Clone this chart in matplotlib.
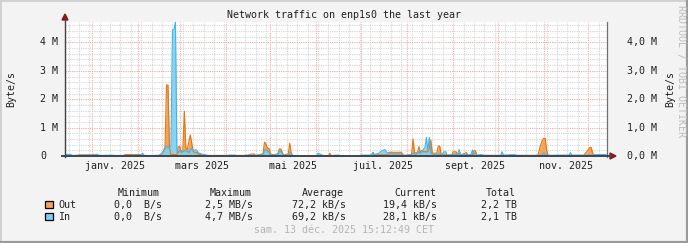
import matplotlib
matplotlib.use('Agg')
import matplotlib.pyplot as plt
import matplotlib.dates as mdates
import matplotlib.transforms as mtransforms
from matplotlib.ticker import MultipleLocator
from matplotlib.lines import Line2D
from matplotlib.patches import Polygon, Rectangle
import pandas as pd

# ---------------- data (MB/s) ----------------
out_dates = ["2024-12-13", "2024-12-20", "2024-12-24", "2025-01-04", "2025-01-06", "2025-01-22",
             "2025-01-23", "2025-02-03", "2025-02-05", "2025-02-15", "2025-02-17", "2025-02-19",
             "2025-02-20", "2025-02-21", "2025-02-22", "2025-02-23", "2025-02-27", "2025-02-28",
             "2025-03-01", "2025-03-02", "2025-03-03", "2025-03-04", "2025-03-05", "2025-03-06",
             "2025-03-07", "2025-03-08", "2025-03-09", "2025-03-10", "2025-03-12", "2025-03-14",
             "2025-03-17", "2025-04-16", "2025-04-18", "2025-04-20", "2025-04-21", "2025-04-26",
             "2025-04-27", "2025-04-28", "2025-04-29", "2025-04-30", "2025-05-01", "2025-05-03",
             "2025-05-06", "2025-05-07", "2025-05-08", "2025-05-09", "2025-05-10", "2025-05-13",
             "2025-05-14", "2025-05-15", "2025-05-16", "2025-06-09", "2025-06-10", "2025-06-11",
             "2025-07-08", "2025-07-09", "2025-07-10", "2025-07-19", "2025-07-20", "2025-07-28",
             "2025-07-30", "2025-08-04", "2025-08-05", "2025-08-06", "2025-08-08", "2025-08-09",
             "2025-08-10", "2025-08-11", "2025-08-12", "2025-08-15", "2025-08-16", "2025-08-17",
             "2025-08-18", "2025-08-21", "2025-08-22", "2025-08-23", "2025-08-24", "2025-08-31",
             "2025-09-01", "2025-09-03", "2025-09-04", "2025-09-05", "2025-09-06", "2025-09-10",
             "2025-09-11", "2025-09-14", "2025-09-15", "2025-09-16", "2025-09-17", "2025-10-28",
             "2025-10-29", "2025-10-30", "2025-10-31", "2025-11-01", "2025-11-02", "2025-11-03",
             "2025-11-04", "2025-11-28", "2025-11-29", "2025-11-30", "2025-12-01", "2025-12-02",
             "2025-12-03", "2025-12-04", "2025-12-05", "2025-12-13"]
out_vals = [0.01, 0.01, 0.04, 0.04, 0.01, 0.01,
            0.05, 0.05, 0.01, 0.02, 0.08, 0.30,
            2.50, 2.50, 0.30, 0.05, 0.05, 0.33,
            0.33, 0.12, 0.20, 1.58, 0.30, 0.22,
            0.50, 0.74, 0.45, 0.15, 0.12, 0.06,
            0.02, 0.02, 0.07, 0.07, 0.01, 0.08,
            0.49, 0.42, 0.27, 0.27, 0.08, 0.03,
            0.08, 0.25, 0.25, 0.12, 0.03, 0.08,
            0.45, 0.08, 0.01, 0.01, 0.10, 0.01,
            0.02, 0.13, 0.04, 0.04, 0.13, 0.13,
            0.02, 0.05, 0.60, 0.12, 0.10, 0.33,
            0.12, 0.20, 0.15, 0.15, 0.30, 0.56,
            0.10, 0.10, 0.35, 0.35, 0.05, 0.03,
            0.15, 0.15, 0.05, 0.10, 0.03, 0.12,
            0.03, 0.05, 0.19, 0.19, 0.02, 0.02,
            0.20, 0.40, 0.55, 0.62, 0.62, 0.20,
            0.02, 0.02, 0.10, 0.15, 0.22, 0.30,
            0.30, 0.10, 0.02, 0.02]

in_dates = ["2024-12-13", "2024-12-15", "2024-12-17", "2024-12-19", "2024-12-25", "2025-01-02",
            "2025-01-04", "2025-01-06", "2025-01-14", "2025-01-16", "2025-01-25", "2025-02-03",
            "2025-02-04", "2025-02-05", "2025-02-15", "2025-02-17", "2025-02-19", "2025-02-20",
            "2025-02-22", "2025-02-23", "2025-02-24", "2025-02-25", "2025-02-26", "2025-02-27",
            "2025-02-28", "2025-03-01", "2025-03-03", "2025-03-05", "2025-03-07", "2025-03-09",
            "2025-03-10", "2025-03-12", "2025-03-14", "2025-03-17", "2025-03-20", "2025-03-25",
            "2025-04-02", "2025-04-03", "2025-04-07", "2025-04-08", "2025-04-13", "2025-04-14",
            "2025-04-18", "2025-04-20", "2025-04-26", "2025-04-27", "2025-04-28", "2025-04-29",
            "2025-04-30", "2025-05-01", "2025-05-06", "2025-05-07", "2025-05-08", "2025-05-09",
            "2025-05-10", "2025-05-13", "2025-05-14", "2025-05-15", "2025-05-16", "2025-05-20",
            "2025-06-01", "2025-06-02", "2025-06-03", "2025-06-05", "2025-06-07", "2025-06-12",
            "2025-06-13", "2025-06-16", "2025-06-17", "2025-06-30", "2025-07-01", "2025-07-08",
            "2025-07-09", "2025-07-10", "2025-07-13", "2025-07-15", "2025-07-17", "2025-07-18",
            "2025-07-20", "2025-07-28", "2025-07-30", "2025-08-04", "2025-08-05", "2025-08-07",
            "2025-08-08", "2025-08-10", "2025-08-11", "2025-08-13", "2025-08-14", "2025-08-15",
            "2025-08-16", "2025-08-17", "2025-08-20", "2025-08-22", "2025-08-24", "2025-08-26",
            "2025-08-27", "2025-08-28", "2025-09-01", "2025-09-04", "2025-09-05", "2025-09-06",
            "2025-09-13", "2025-09-14", "2025-09-15", "2025-09-16", "2025-09-17", "2025-09-20",
            "2025-09-22", "2025-10-03", "2025-10-04", "2025-10-05", "2025-10-12", "2025-10-14",
            "2025-10-30", "2025-11-01", "2025-11-02", "2025-11-04", "2025-11-12", "2025-11-16",
            "2025-11-18", "2025-11-19", "2025-11-20", "2025-12-04", "2025-12-05", "2025-12-13"]
in_vals = [0.02, 0.06, 0.06, 0.02, 0.03, 0.03,
           0.06, 0.02, 0.03, 0.02, 0.02, 0.03,
           0.10, 0.02, 0.02, 0.10, 0.25, 0.35,
           0.28, 0.35, 4.43, 4.45, 4.72, 0.20,
           0.12, 0.20, 0.15, 0.20, 0.12, 0.28,
           0.20, 0.22, 0.10, 0.05, 0.02, 0.00,
           0.00, 0.03, 0.03, 0.00, 0.00, 0.03,
           0.03, 0.02, 0.05, 0.20, 0.22, 0.18,
           0.12, 0.04, 0.05, 0.18, 0.15, 0.10,
           0.02, 0.03, 0.08, 0.10, 0.02, 0.00,
           0.00, 0.10, 0.08, 0.03, 0.00, 0.00,
           0.03, 0.03, 0.00, 0.00, 0.03, 0.03,
           0.12, 0.05, 0.10, 0.18, 0.23, 0.15,
           0.07, 0.07, 0.02, 0.03, 0.10, 0.05,
           0.15, 0.10, 0.15, 0.30, 0.66, 0.20,
           0.66, 0.10, 0.03, 0.08, 0.03, 0.15,
           0.15, 0.03, 0.05, 0.05, 0.23, 0.05,
           0.05, 0.21, 0.05, 0.10, 0.03, 0.05,
           0.02, 0.02, 0.15, 0.03, 0.05, 0.02,
           0.02, 0.10, 0.05, 0.02, 0.03, 0.03,
           0.03, 0.12, 0.03, 0.03, 0.05, 0.05]

start_time = "2024-12-13 15:12:49"
end_time = "2025-12-13 15:12:49"

y_ticks = [0, 1, 2, 3, 4]
y_labels_left = ["0", "1 M", "2 M", "3 M", "4 M"]
y_labels_right = ["0,0 M", "1,0 M", "2,0 M", "3,0 M", "4,0 M"]
x_label_dates = ["2025-01-16", "2025-03-16", "2025-05-16", "2025-07-16", "2025-09-16", "2025-11-16"]
x_labels = ["janv. 2025", "mars 2025", "mai 2025", "juil. 2025", "sept. 2025", "nov. 2025"]
y_max = 4.72

title = "Network traffic on enp1s0 the last year"
legend_names = ["Out", "In"]
legend_headers = ["Minimum", "Maximum", "Average", "Current", "Total"]
legend_min = ["0,0  B/s", "0,0  B/s"]
legend_max = ["2,5 MB/s", "4,7 MB/s"]
legend_avg = ["72,2 kB/s", "69,2 kB/s"]
legend_cur = ["19,4 kB/s", "28,1 kB/s"]
legend_tot = ["2,2 TB", "2,1 TB"]
timestamp = "sam. 13 déc. 2025 15:12:49 CET"

# ---------------- styling ----------------
W, H = 688, 243
FONT = "DejaVu Sans Mono"
FS = 7.2
OUT_FILL, OUT_LINE = "#F2A55A", "#E8750C"
IN_FILL, IN_LINE = "#7DD0F2", "#45B3E6"

def fx(px):
    return px / W

def fy(py):
    return 1 - py / H

fig = plt.figure(figsize=(W / 100, H / 100), dpi=100, facecolor="#F3F3F3")
ax = fig.add_axes([fx(65), fy(156), (607 - 65) / W, (156 - 22) / H])
ax.set_facecolor("white")

od = pd.to_datetime(out_dates)
idt = pd.to_datetime(in_dates)

ax.fill_between(od, 0, out_vals, color=OUT_FILL, lw=0, zorder=2)
ax.fill_between(idt, 0, in_vals, color=IN_FILL, lw=0, alpha=0.9, zorder=3)
ax.plot(od, out_vals, color=OUT_LINE, lw=0.8, zorder=4)
ax.plot(idt, in_vals, color=IN_LINE, lw=0.8, zorder=5)

ax.set_xlim(pd.Timestamp(start_time), pd.Timestamp(end_time))
ax.set_ylim(0, y_max)

ax.xaxis.set_major_locator(mdates.MonthLocator())
ax.xaxis.set_minor_locator(mdates.WeekdayLocator(byweekday=mdates.MO))
ax.yaxis.set_major_locator(MultipleLocator(1))
ax.yaxis.set_minor_locator(MultipleLocator(0.2))
ax.grid(which="minor", color="#D6D6D6", ls=(0, (1, 1)), lw=0.8, zorder=0)
ax.grid(which="major", color="#F4A8A8", ls=(0, (1, 1)), lw=0.8, zorder=1)
ax.set_axisbelow(True)
ax.tick_params(which="both", length=0, labelbottom=False, labelleft=False)
for s in ax.spines.values():
    s.set_visible(False)

# axis lines and arrows
fig.add_artist(Line2D([fx(65), fx(65)], [fy(157), fy(19)], color="#404040", lw=1.0))
fig.add_artist(Line2D([fx(607), fx(607)], [fy(157), fy(22)], color="#707070", lw=0.9))
fig.add_artist(Line2D([fx(62), fx(611)], [fy(156), fy(156)], color="#3C4652", lw=1.4))
fig.add_artist(Polygon([[fx(62), fy(20)], [fx(68), fy(20)], [fx(65), fy(14)]],
                       closed=True, color="#8B1A1A", transform=fig.transFigure))
fig.add_artist(Polygon([[fx(610), fy(153)], [fx(610), fy(159)], [fx(616), fy(156)]],
                       closed=True, color="#8B1A1A", transform=fig.transFigure))

# tick labels
bt = mtransforms.blended_transform_factory(fig.transFigure, ax.transData)
for v, l, r in zip(y_ticks, y_labels_left, y_labels_right):
    fig.text(fx(40), 0, l, transform=mtransforms.blended_transform_factory(fig.transFigure, ax.transData),
             family=FONT, fontsize=FS, ha="left", va="center", color="#202020")
    fig.texts[-1].set_position((fx(40), v))
    t = fig.text(fx(627), v, r, family=FONT, fontsize=FS, ha="left", va="center", color="#202020")
    t.set_transform(bt)

xt = mtransforms.blended_transform_factory(ax.transData, fig.transFigure)
for d, lab in zip(pd.to_datetime(x_label_dates), x_labels):
    ax.text(mdates.date2num(d), fy(166), lab, transform=xt, family=FONT, fontsize=FS,
            ha="center", va="center", color="#202020")

# titles / axis labels
fig.text(fx(344), fy(15.5), title, family=FONT, fontsize=FS, ha="center", va="center", color="#202020")
fig.text(fx(11), fy(89), "Byte/s", family=FONT, fontsize=FS, ha="center", va="center",
         rotation=90, color="#202020")
fig.text(fx(670), fy(89), "Byte/s", family=FONT, fontsize=FS, ha="center", va="center",
         rotation=90, color="#202020")
fig.text(fx(681), fy(5), "RRDTOOL / TOBI OETIKER", family=FONT, fontsize=FS, ha="center", va="top",
         rotation=270, color="#BDBDBD")

# legend
hdr_ends = [160, 252, 344, 436, 516]
for h, xe in zip(legend_headers, hdr_ends):
    fig.text(fx(xe), fy(192.5), h, family=FONT, fontsize=FS, ha="right", va="center", color="#202020")
col_ends = [162, 253, 346, 437, 517]
row_y = [204.5, 216.5]
fills = [OUT_FILL, IN_FILL]
for i in range(2):
    y = row_y[i]
    fig.add_artist(Rectangle((fx(45), fy(y + 3.8)), 7.5 / W, 7.5 / H, transform=fig.transFigure,
                             facecolor=fills[i], edgecolor="black", lw=0.9))
    fig.text(fx(58), fy(y), legend_names[i], family=FONT, fontsize=FS, ha="left", va="center", color="#202020")
    vals = [legend_min[i], legend_max[i], legend_avg[i], legend_cur[i], legend_tot[i]]
    for v, xe in zip(vals, col_ends):
        fig.text(fx(xe), fy(y), v, family=FONT, fontsize=FS, ha="right", va="center", color="#202020")

fig.text(fx(344), fy(230), timestamp, family=FONT, fontsize=FS, ha="center", va="center", color="#B4B4B4")

# image frame
fig.add_artist(Line2D([0, 0], [0, 1], color="#D0D0D0", lw=2, transform=fig.transFigure))
fig.add_artist(Line2D([0, 1], [1, 1], color="#D0D0D0", lw=2, transform=fig.transFigure))
fig.add_artist(Line2D([1, 1], [0, 1], color="#9A9A9A", lw=3, transform=fig.transFigure))
fig.add_artist(Line2D([0, 1], [0, 0], color="#9A9A9A", lw=3, transform=fig.transFigure))

fig.savefig("out.png", dpi=100, facecolor=fig.get_facecolor())
